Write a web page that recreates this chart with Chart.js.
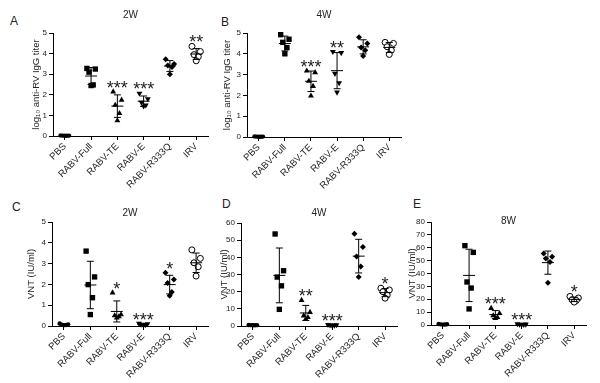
<!DOCTYPE html>
<html>
<head>
<meta charset="utf-8">
<script src="https://cdn.jsdelivr.net/npm/chart.js@4.4.0/dist/chart.umd.min.js"></script>
<style>
  body { margin: 0; background: #fff; }
  #fig { position: relative; width: 600px; height: 383px; font-family: "Liberation Sans", Arial, sans-serif; }
  .panel { position: absolute; }
  .tag { position: absolute; font-size: 12px; line-height: 12px; color: #222; }
</style>
</head>
<body>
<div id="fig">
  <div class="tag" style="left:10px;top:15px">A</div>
  <div class="tag" style="left:221px;top:16px">B</div>
  <div class="tag" style="left:12px;top:201px">C</div>
  <div class="tag" style="left:222px;top:198px">D</div>
  <div class="tag" style="left:413px;top:198px">E</div>
  <div class="panel" style="left:0px;top:0px;width:215px;height:190px"><canvas id="chartA"></canvas></div>
  <div class="panel" style="left:215px;top:0px;width:192px;height:190px"><canvas id="chartB"></canvas></div>
  <div class="panel" style="left:0px;top:190px;width:215px;height:193px"><canvas id="chartC"></canvas></div>
  <div class="panel" style="left:210px;top:190px;width:195px;height:193px"><canvas id="chartD"></canvas></div>
  <div class="panel" style="left:400px;top:190px;width:200px;height:193px"><canvas id="chartE"></canvas></div>
</div>
<script>
// groups on the x axis
const groups = ['PBS', 'RABV-Full', 'RABV-TE', 'RABV-E', 'RABV-R333Q', 'IRV'];

// log10 anti-RV IgG titer, 2 weeks (one list per group)
const igg2w = [
    [0.03, 0.02, 0.02, 0.01, 0.01],
    [3.28, 3.25, 3.1, 2.48, 2.45],
    [2.15, 1.75, 1.5, 1.1, 0.75],
    [2.07, 1.8, 1.63, 1.5, 1.45],
    [3.72, 3.5, 3.42, 3.35, 3.0],
    [4.35, 4.1, 3.95, 3.85, 3.65]
];
// log10 anti-RV IgG titer, 4 weeks
const igg4w = [
    [0.03, 0.02, 0.02, 0.01, 0.01],
    [4.92, 4.7, 4.55, 4.3, 4.0],
    [3.18, 3.1, 2.69, 2.44, 1.98],
    [4.1, 4.05, 3.05, 2.6, 2.15],
    [4.8, 4.5, 4.3, 4.17, 3.9],
    [4.55, 4.5, 4.34, 4.17, 3.97]
];
// VNT (IU/ml), 2 weeks
const vnt2w = [
    [0.12, 0.08, 0.06, 0.05, 0.04],
    [3.6, 2.36, 1.99, 1.36, 0.55],
    [1.6, 0.55, 0.5, 0.45, 0.4],
    [0.12, 0.1, 0.08, 0.06, 0.05],
    [2.56, 2.23, 2.07, 1.63, 1.46],
    [3.66, 3.25, 3.04, 2.85, 2.4]
];
// VNT (IU/ml), 4 weeks
const vnt4w = [
    [0.6, 0.5, 0.5, 0.4, 0.4],
    [53.6, 32.2, 28.5, 23.4, 9.7],
    [15, 8, 6, 5, 4],
    [0.8, 0.6, 0.5, 0.4, 0.3],
    [53.8, 46, 40.5, 34.7, 28.5],
    [22, 21, 20, 18, 16.2]
];
// VNT (IU/ml), 8 weeks
const vnt8w = [
    [0.8, 0.6, 0.5, 0.4, 0.3],
    [61.6, 56.4, 33.4, 28.7, 12.5],
    [13, 9, 7.3, 6, 5.2],
    [0.8, 0.6, 0.5, 0.4, 0.3],
    [55.6, 53, 51.7, 49, 32.9],
    [22.2, 21, 19.6, 19, 17.8]
];

// significance marks
const sigIgg2w = ['', '', '***', '***', '', '**'];
const sigIgg4w = ['', '', '***', '**', '', ''];
const sigVnt2w = ['', '', '*', '***', '*', ''];
const sigVnt4w = ['', '', '**', '***', '', '*'];
const sigVnt8w = ['', '', '***', '***', '', '*'];

// y tick labels
const logTicks = [0, 1, 2, 3, 4, 5];
const vnt2wTicks = [0, 1, 2, 3, 4, 5];
const vnt4wTicks = [0, 10, 20, 30, 40, 50, 60];
const vnt8wTicks = [0, 10, 20, 30, 40, 50, 60, 70, 80];

// marker look per group, and small horizontal spread of the dots
const pointStyles = ['circle', 'rect', 'triangle', 'triangle', 'rectRot', 'circle'];
const pointRotations = [0, 0, 0, 180, 0, 0];
const pointSizes = [2.2, 3.8, 3.4, 3.4, 3, 3];
const spread = [-0.16, 0.16, -0.08, 0.08, 0];

Chart.defaults.font.family = '"Liberation Sans", Arial, sans-serif';
Chart.defaults.color = '#222';

// mean line, SD whiskers and stars, all placed through the chart scales
const meanSdPlugin = {
    id: 'meanSd',
    afterDatasetsDraw(chart, args, opts) {
        const ctx = chart.ctx;
        const x = chart.scales.x;
        const y = chart.scales.y;
        ctx.save();
        ctx.strokeStyle = '#000';
        ctx.lineWidth = 1;
        opts.values.forEach((vals, i) => {
            const n = vals.length;
            const m = vals.reduce((a, b) => a + b, 0) / n;
            const sd = Math.sqrt(vals.reduce((a, b) => a + (b - m) * (b - m), 0) / (n - 1));
            const cx = x.getPixelForValue(i);
            const yM = y.getPixelForValue(m);
            const yHi = y.getPixelForValue(m + sd);
            const yLo = y.getPixelForValue(Math.max(m - sd, 0));
            ctx.beginPath();
            ctx.moveTo(cx - 6, yM); ctx.lineTo(cx + 6, yM);
            ctx.moveTo(cx, yHi); ctx.lineTo(cx, yLo);
            ctx.moveTo(cx - 3.5, yHi); ctx.lineTo(cx + 3.5, yHi);
            ctx.moveTo(cx - 3.5, yLo); ctx.lineTo(cx + 3.5, yLo);
            ctx.stroke();

            const mark = opts.sig[i];
            if (mark) {
                const top = Math.min(yHi, y.getPixelForValue(Math.max(...vals)));
                ctx.fillStyle = '#222';
                ctx.font = '18px "Liberation Sans", Arial, sans-serif';
                ctx.textAlign = 'center';
                ctx.textBaseline = 'alphabetic';
                ctx.fillText(mark, cx, top - 8.5 + 10.5);
            }
        });
        ctx.restore();
    },
    afterDraw(chart, args, opts) {
        // panel title ("2W", "4W", "8W") centred over the plot area
        const ctx = chart.ctx;
        const area = chart.chartArea;
        ctx.save();
        ctx.fillStyle = '#222';
        ctx.font = '10px "Liberation Sans", Arial, sans-serif';
        ctx.textAlign = 'center';
        ctx.textBaseline = 'middle';
        ctx.fillText(opts.title, (area.left + area.right) / 2, area.top - opts.titleGap);
        ctx.restore();
    }
};

function makeChart(canvasId, values, sig, yTicks, yTitle, title, lay) {
    const datasets = values.map((vals, i) => ({
        data: vals.map((v, j) => ({ x: i + spread[j % spread.length], y: v })),
        pointStyle: pointStyles[i],
        rotation: pointRotations[i],
        pointRadius: pointSizes[i],
        backgroundColor: i === 5 ? '#fff' : '#000',
        borderColor: '#000',
        borderWidth: i === 5 ? 1 : 0,
        showLine: false,
        clip: false
    }));

    return new Chart(document.getElementById(canvasId), {
        type: 'scatter',
        data: { datasets: datasets },
        options: {
            responsive: true,
            maintainAspectRatio: false,
            animation: false,
            layout: { padding: { left: lay.padL, right: lay.padR, top: lay.padT, bottom: 0 } },
            plugins: {
                legend: { display: false },
                tooltip: { enabled: false },
                meanSd: { values: values, sig: sig, title: title, titleGap: lay.gap }
            },
            scales: {
                x: {
                    type: 'linear',
                    min: -0.45,
                    max: 5.45,
                    afterBuildTicks: s => { s.ticks = groups.map((g, i) => ({ value: i })); },
                    afterFit: s => { s.height = lay.xH; },
                    ticks: {
                        autoSkip: false,
                        minRotation: 45,
                        maxRotation: 45,
                        padding: 1,
                        color: '#222',
                        font: { size: 9.5 },
                        callback: v => groups[v]
                    },
                    grid: { display: true, drawOnChartArea: false, drawTicks: true, tickLength: 4, color: '#000' },
                    border: { display: true, color: '#000', width: 1 }
                },
                y: {
                    min: 0,
                    max: yTicks[yTicks.length - 1],
                    afterBuildTicks: s => { s.ticks = yTicks.map(v => ({ value: v })); },
                    afterFit: s => { s.width = lay.yW; },
                    ticks: { color: '#222', padding: 2, font: { size: 8 } },
                    grid: { display: true, drawOnChartArea: false, drawTicks: true, tickLength: 4, color: '#000' },
                    border: { display: true, color: '#000', width: 1 },
                    title: {
                        display: true,
                        text: yTitle,
                        color: '#222',
                        font: { size: 9.5 },
                        padding: { top: 4, bottom: 4 }
                    }
                }
            }
        },
        plugins: [meanSdPlugin]
    });
}

const iggTitle = 'log\u2081\u2080 anti-RV IgG titer';
const vntTitle = 'VNT (IU/ml)';

makeChart('chartA', igg2w, sigIgg2w, logTicks, iggTitle, '2W',
    { padL: 27, padR: 7, padT: 33, yW: 26, xH: 54, gap: 18 });
makeChart('chartB', igg4w, sigIgg4w, logTicks, iggTitle, '4W',
    { padL: 3, padR: 6, padT: 33, yW: 29, xH: 53, gap: 18 });
makeChart('chartC', vnt2w, sigVnt2w, vnt2wTicks, vntTitle, '2W',
    { padL: 22, padR: 7, padT: 32, yW: 30, xH: 57, gap: 9 });
makeChart('chartD', vnt4w, sigVnt4w, vnt4wTicks, vntTitle, '4W',
    { padL: 5, padR: 8, padT: 33, yW: 26, xH: 57, gap: 10 });
makeChart('chartE', vnt8w, sigVnt8w, vnt8wTicks, vntTitle, '8W',
    { padL: 3, padR: 14, padT: 32, yW: 28, xH: 58, gap: 1 });
</script>
</body>
</html>
